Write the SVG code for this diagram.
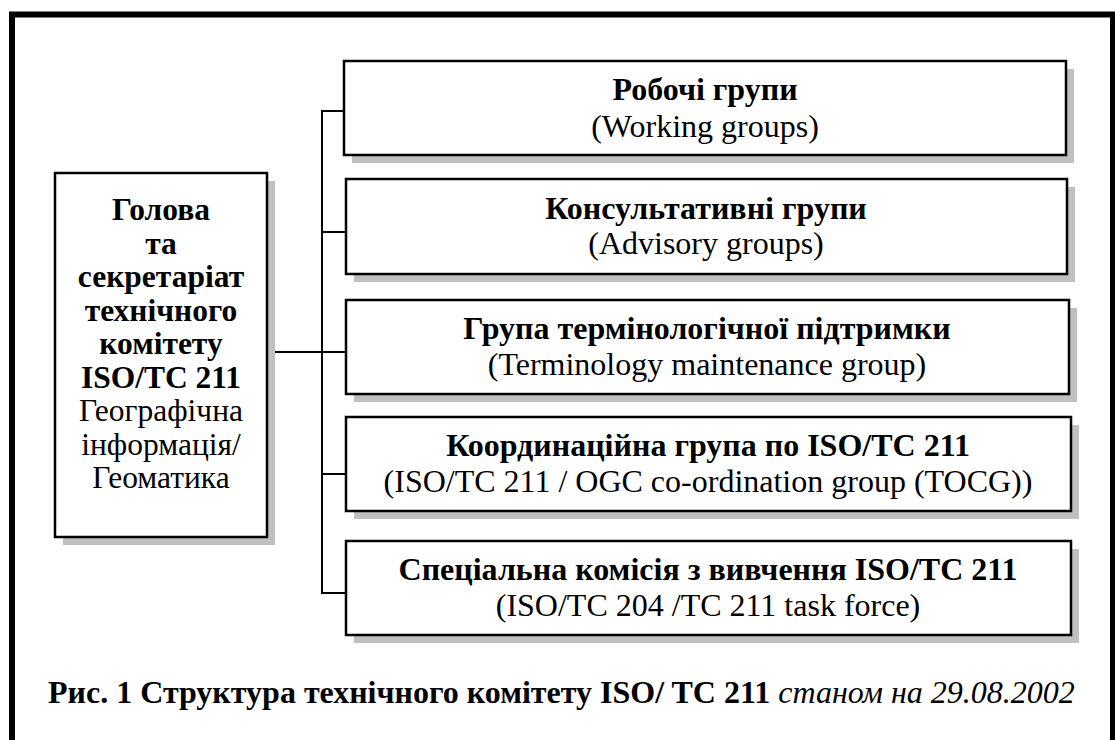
<svg xmlns="http://www.w3.org/2000/svg" width="1115" height="740" viewBox="0 0 1115 740">
<style>
.frame{fill:none;stroke:#000;stroke-width:6}
.box{fill:#fff;stroke:#000;stroke-width:2.5}
.sh{fill:#c0c0c0}
.ln{fill:none;stroke:#000;stroke-width:2}
text{font-family:"Liberation Serif","Times New Roman",serif;fill:#000;text-anchor:middle}
.b{font-weight:bold}
.t{font-size:32px}
.l{font-size:31.5px}
.cap{font-size:32px;text-anchor:start}
</style>
<rect class="frame" x="12" y="14.5" width="1101" height="800"/>
<g id="connectors">
<polyline class="ln" points="345,111 322,111 322,593 345,593"/>
<line class="ln" x1="322" y1="232" x2="345" y2="232"/>
<line class="ln" x1="268" y1="352" x2="345" y2="352"/>
<line class="ln" x1="322" y1="474" x2="345" y2="474"/>
</g>
<g id="chair">
<rect class="sh" x="63" y="181" width="212" height="364"/>
<rect class="box" x="55" y="173" width="212" height="364"/>
<text class="l b" x="161" y="220">Голова</text>
<text class="l b" x="161" y="253.5">та</text>
<text class="l b" x="161" y="287">секретаріат</text>
<text class="l b" x="161" y="320.5">технічного</text>
<text class="l b" x="161" y="354">комітету</text>
<text class="l b" x="161" y="387.5">ISO/TC 211</text>
<text class="l" x="161" y="421" font-size="32">Географічна</text>
<text class="l" x="161" y="454.5" font-size="32">інформація/</text>
<text class="l" x="161" y="488" font-size="32">Геоматика</text>
</g>
<g id="wg">
<rect class="sh" x="352" y="69" width="722" height="94"/>
<rect class="box" x="344" y="61" width="722" height="94"/>
<text class="t b" x="705" y="100">Робочі групи</text>
<text class="t" x="705" y="136.5">(Working groups)</text>
</g>
<g id="ag">
<rect class="sh" x="354" y="187" width="721" height="95"/>
<rect class="box" x="346" y="179" width="721" height="95"/>
<text class="t b" x="706" y="218.5">Консультативні групи</text>
<text class="t" x="706" y="253.5">(Advisory groups)</text>
</g>
<g id="tmg">
<rect class="sh" x="354" y="308" width="723" height="94"/>
<rect class="box" x="346" y="300" width="723" height="94"/>
<text class="t b" x="707" y="339">Група термінологічної підтримки</text>
<text class="t" x="707" y="375">(Terminology maintenance group)</text>
</g>
<g id="tocg">
<rect class="sh" x="354" y="425" width="725" height="94"/>
<rect class="box" x="346" y="417" width="725" height="94"/>
<text class="t b" x="708" y="456">Координаційна група по ISO/TC 211</text>
<text class="t" x="708" y="492">(ISO/TC 211 / OGC co-ordination group (TOCG))</text>
</g>
<g id="tf">
<rect class="sh" x="354" y="549" width="725" height="94"/>
<rect class="box" x="346" y="541" width="725" height="94"/>
<text class="t b" x="708" y="580">Спеціальна комісія з вивчення ISO/TC 211</text>
<text class="t" x="708" y="616">(ISO/TC 204 /TC 211 task force)</text>
</g>
<text class="cap" x="48" y="703"><tspan class="b">Рис. 1 Структура технічного комітету ISO/ TC 211</tspan> <tspan font-style="italic">станом на 29.08.2002</tspan></text>
</svg>
